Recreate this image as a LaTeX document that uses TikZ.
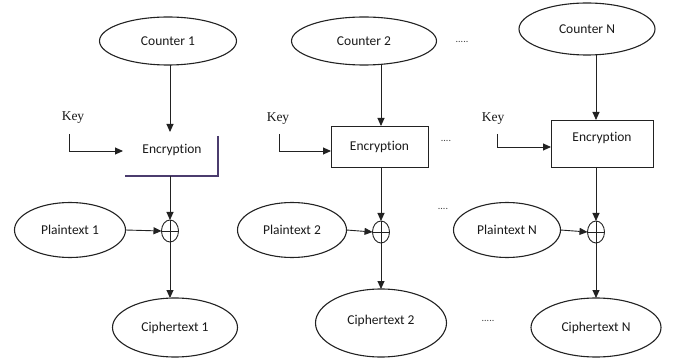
\documentclass[tikz,border=0pt]{standalone}
\usepackage{fontspec}
\setmainfont{Carlito}[Ligatures={NoCommon,NoRequired,NoContextual}]
\newfontfamily\keyfont{Liberation Serif}
\usetikzlibrary{shapes.geometric,arrows.meta}
\definecolor{ln}{HTML}{222222}
\definecolor{encpurple}{HTML}{4B3C6E}
\begin{document}
\begin{tikzpicture}[x=1pt,y=-1pt,
  every node/.style={inner sep=0pt,outer sep=0pt},
  txt/.style={font=\fontsize{13.5}{15}\selectfont,text=black!90},
  oval/.style={ellipse,draw=ln,line width=1.1pt,txt},
  encbox/.style={rectangle,draw=ln,line width=0.85pt,txt},
  xorc/.style={ellipse,draw=ln,line width=0.9pt,minimum width=17pt,minimum height=22pt},
  keylbl/.style={font=\keyfont\fontsize{13.5}{15}\selectfont,text=black!90},
  dotlbl/.style={font=\fontsize{10}{11}\selectfont,text=black!75},
  arr/.style={draw=ln,line width=0.9pt,-{Triangle[length=8pt,width=7pt]}},
  plain/.style={draw=ln,line width=0.9pt}]
\useasboundingbox (0,0) rectangle (677,358);

% counters
\node[oval,minimum width=137pt,minimum height=48pt] (c1) at (168,41) {Counter 1};
\node[oval,minimum width=145pt,minimum height=48pt] (c2) at (364,41) {Counter 2};
\node[oval,minimum width=136pt,minimum height=52pt] (cN) at (587,29) {Counter N};
\node[dotlbl] (d1) at (462,42) {.....};

% encryption blocks
\node[rectangle,minimum width=93pt,minimum height=40pt] (e1) at (171.5,156) {};
\node[txt] (e1t) at (172,150) {Encryption};
\draw[encpurple,line width=1.7pt] (e1.north east) -- (e1.south east) -- (e1.south west);
\node[encbox,minimum width=97pt,minimum height=41pt] (e2) at (379.5,146.5) {Encryption};
\node[encbox,minimum width=102pt,minimum height=47pt] (eN) at (602,143.5) {};
\node[txt] (eNt) at (602,138) {Encryption};
\node[dotlbl] (d2) at (446,141) {....};

% columns
\coordinate (x1) at (170,0);
\coordinate (x2) at (381,0);
\coordinate (xN) at (596,0);

% keys
\node[keylbl] (k1) at (73,118) {Key};
\node[keylbl] (k2) at (278,119) {Key};
\node[keylbl] (kN) at (493,119) {Key};
\coordinate (k1s) at (69,134);
\coordinate (k1e) at (123,151);
\coordinate (k2s) at (279,134);
\coordinate (kNs) at (497,134);
\draw[arr] (k1s) |- (k1e);
\draw[arr] (k2s) |- (e2.west |- 0,151);
\draw[arr] (kNs) |- (eN.west |- 0,147);

% counter -> encryption
\coordinate (e1top) at (170,132);
\draw[arr] (c1.south -| x1) -- (e1top);
\draw[arr] (c2.south -| x2) -- (e2.north -| x2);
\draw[arr] (cN.south -| xN) -- (eN.north -| xN);

% plaintexts
\node[oval,minimum width=111pt,minimum height=55pt] (p1) at (70,230) {Plaintext 1};
\node[oval,minimum width=109pt,minimum height=55pt] (p2) at (292,230) {Plaintext 2};
\node[oval,minimum width=107pt,minimum height=55pt] (pN) at (507,230) {Plaintext N};
\node[dotlbl] (d3) at (443,209) {....};

% xor
\node[xorc] (o1) at (170,231) {};
\node[xorc] (o2) at (381,232) {};
\node[xorc] (oN) at (596,232) {};
\foreach \o in {o1,o2,oN}{
  \draw[ln,line width=0.8pt] (\o.north) -- (\o.south);
  \draw[ln,line width=0.8pt] (\o.west) -- (\o.east);
}

\draw[arr] (e1.south -| x1) -- (o1.north);
\draw[arr] (e2.south -| x2) -- (o2.north);
\draw[arr] (eN.south -| xN) -- (oN.north);
\draw[arr] (p1.east) -- (o1.west);
\draw[arr] (p2.east) -- (o2.west);
\draw[arr] (pN.east) -- (oN.west);

% ciphertexts
\node[oval,minimum width=125pt,minimum height=59pt] (t1) at (175,327.5) {Ciphertext 1};
\node[oval,minimum width=131pt,minimum height=68pt] (t2) at (381,323) {\raisebox{6pt}{Ciphertext 2}};
\node[oval,minimum width=130pt,minimum height=59pt] (tN) at (596,327.5) {Ciphertext N};
\node[dotlbl] (d4) at (488,321) {.....};

\draw[arr] (o1.south) -- (t1.north -| x1);
\draw[arr] (o2.south) -- (t2.north -| x2);
\draw[arr] (oN.south) -- (tN.north -| xN);
\end{tikzpicture}
\end{document}
